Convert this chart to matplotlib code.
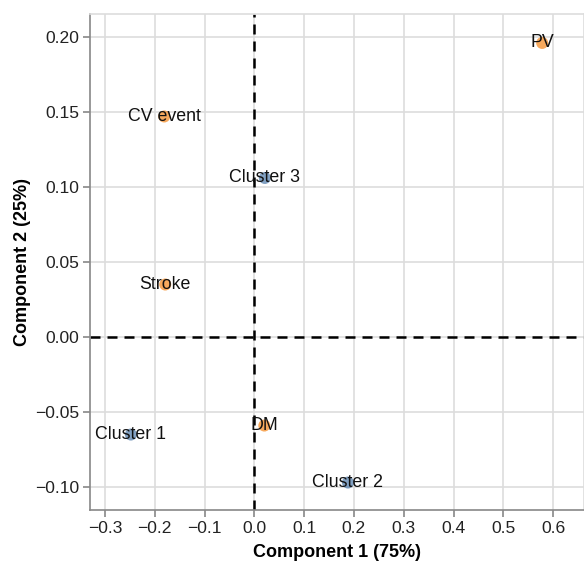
import matplotlib.pyplot as plt

plt.rcParams['font.family'] = ['Liberation Sans', 'DejaVu Sans']

# PCA loadings
labels = ['PV', 'CV event', 'Cluster 3', 'Stroke', 'Cluster 1', 'DM', 'Cluster 2']
comp1 = [0.578, -0.181, 0.021, -0.179, -0.248, 0.020, 0.188]
comp2 = [0.196, 0.147, 0.106, 0.035, -0.065, -0.059, -0.097]
groups = ['outcome', 'outcome', 'cluster', 'outcome', 'cluster', 'outcome', 'cluster']

x_ticks = [-0.3, -0.2, -0.1, 0.0, 0.1, 0.2, 0.3, 0.4, 0.5, 0.6]
y_ticks = [-0.10, -0.05, 0.00, 0.05, 0.10, 0.15, 0.20]

colors = {'outcome': '#f58518', 'cluster': '#4c78a8'}

fig = plt.figure(figsize=(5.84, 5.64), dpi=100)
ax = fig.add_axes([90 / 584, 54 / 564, 494 / 584, 496 / 564])

ax.set_xlim(-0.3301, 0.662)
ax.set_ylim(-0.1153, 0.2153)

ax.set_xticks(x_ticks)
ax.set_xticklabels([f'{v:.1f}'.replace('-', '\u2212') for v in x_ticks])
ax.set_yticks(y_ticks)
ax.set_yticklabels([f'{v:.2f}'.replace('-', '\u2212') for v in y_ticks])

ax.grid(True, color='#dddddd', linewidth=1.2)
ax.set_axisbelow(True)

for side in ['top', 'right']:
    ax.spines[side].set_color('#dddddd')
    ax.spines[side].set_linewidth(1.2)
for side in ['left', 'bottom']:
    ax.spines[side].set_color('#888888')
    ax.spines[side].set_linewidth(1.2)

ax.tick_params(axis='both', colors='#888888', length=5, width=1.2,
               labelsize=12.6, labelcolor='#222222', pad=3)

ax.axvline(0, color='black', linestyle=(0, (4, 2.8)), linewidth=1.8, zorder=2)
ax.axhline(0, color='black', linestyle=(0, (4, 2.8)), linewidth=1.8, zorder=2)

for lab, x, y, g in zip(labels, comp1, comp2, groups):
    ax.scatter(x, y, s=75, color=colors[g], alpha=0.7, edgecolors='none', zorder=3)
    ax.text(x, y, lab, ha='center', va='center', fontsize=12.8, color='#111111', zorder=4)

ax.set_xlabel('Component 1 (75%)', fontsize=13, fontweight='bold', labelpad=6)
ax.set_ylabel('Component 2 (25%)', fontsize=13, fontweight='bold', labelpad=3)

fig.savefig('out.png', dpi=100)
